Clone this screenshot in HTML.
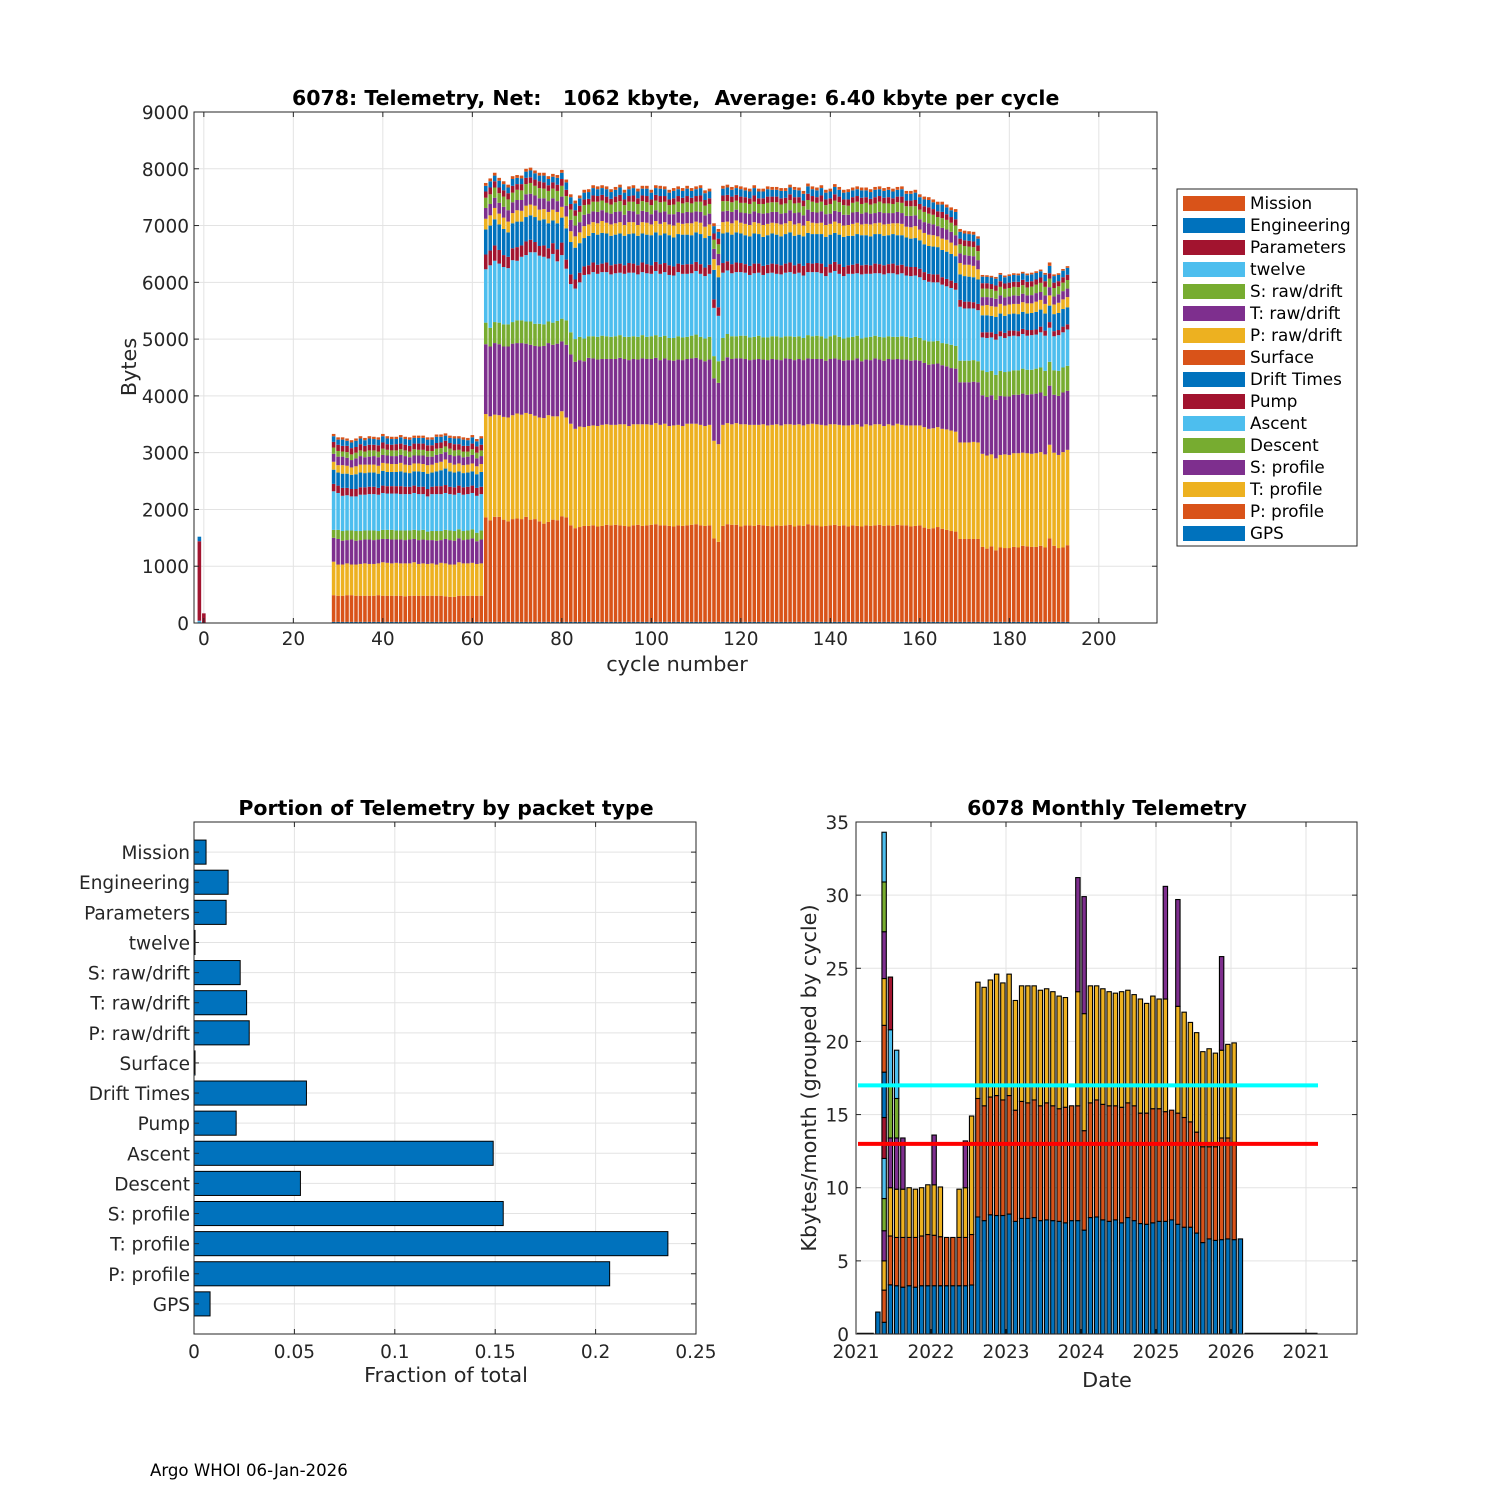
<!DOCTYPE html>
<html><head><meta charset="utf-8"><style>
html,body{margin:0;padding:0;background:#fff;}
svg{display:block;font-family:"DejaVu Sans","Liberation Sans",sans-serif;}
.tk{font-size:18.5px;fill:#262626;}
.ttl{font-size:20.5px;font-weight:bold;fill:#000;}
.lbl{font-size:20.8px;fill:#262626;}
.leg{font-size:16.8px;fill:#000;}
</style></head><body>
<svg id="fig" width="1500" height="1500" viewBox="0 0 1500 1500" xmlns="http://www.w3.org/2000/svg">
<rect x="0" y="0" width="1500" height="1500" fill="#fff"/>
<g id="top"></g>
<g id="bl"></g>
<g id="br"></g>
<text x="292" y="105" class="ttl" xml:space="preserve">6078: Telemetry, Net:   1062 kbyte,  Average: 6.40 kbyte per cycle</text>
<text x="677" y="671" class="lbl" text-anchor="middle">cycle number</text>
<text transform="translate(136,367) rotate(-90)" class="lbl" text-anchor="middle">Bytes</text>
<text x="446" y="815" class="ttl" text-anchor="middle">Portion of Telemetry by packet type</text>
<text x="446" y="1382" class="lbl" text-anchor="middle">Fraction of total</text>
<text x="1107" y="815" class="ttl" text-anchor="middle">6078 Monthly Telemetry</text>
<text x="1107" y="1387" class="lbl" text-anchor="middle">Date</text>
<text transform="translate(816,1078) rotate(-90)" class="lbl" text-anchor="middle">Kbytes/month (grouped by cycle)</text>
<text x="150" y="1476" style="font-size:16.6px" fill="#000">Argo WHOI 06-Jan-2026</text>
</svg>
<script>
// ---------------- TOP CHART DATA ----------------
const cycles = [-1,0,29,30,31,32,33,34,35,36,37,38,39,40,41,42,43,44,45,46,47,48,49,50,51,52,53,54,55,56,57,58,59,60,61,62,
63,64,65,66,67,68,69,70,71,72,73,74,75,76,77,78,79,80,81,82,83,84,85,86,87,88,89,90,91,92,93,94,95,96,97,98,99,100,101,102,
103,104,105,106,107,108,109,110,111,112,113,114,115,116,117,118,119,120,121,122,123,124,125,126,127,128,129,130,131,132,
133,134,135,136,137,138,139,140,141,142,143,144,145,146,147,148,149,150,151,152,153,154,155,156,157,158,159,160,161,162,
163,164,165,166,167,168,169,170,171,172,173,174,175,176,177,178,179,180,181,182,183,184,185,186,187,188,189,190,191,192,193];
const gps = [0,0,
20,20,20,20,20,20,20,20,20,20,20,20,20,20,20,20,20,20,20,20,20,20,20,20,20,20,20,20,20,20,20,20,20,20,
20,20,20,20,20,20,20,20,20,20,20,20,20,20,20,20,20,20,20,20,20,20,20,20,20,20,20,20,20,20,20,20,20,20,20,20,20,20,20,20,
20,20,20,20,20,20,20,20,20,20,20,20,20,20,20,20,20,20,20,20,20,20,20,20,20,20,20,20,20,20,20,20,20,20,20,20,20,20,20,20,
20,20,20,20,20,20,20,20,20,20,20,20,20,20,20,20,20,20,20,20,20,20,20,20,20,20,20,20,20,20,20,20,20,20,20,20,20,20,20,20,
20,20,20,20,20,20,20,20,20,20,20,20,20,20,20,20,20,20,20,20,20,20,20,20,20,40,20,20,20,20,20];
const pProfile = [0,0,
470,460,460,470,470,460,460,460,460,460,470,460,460,460,460,460,450,460,460,460,460,460,460,460,460,450,440,440,460,460,460,460,460,460,
1840,1790,1850,1850,1800,1770,1810,1820,1810,1850,1800,1810,1770,1730,1760,1800,1790,1860,1840,1700,
1650,1670,1690,1690,1700,1680,1690,1710,1700,1710,1700,1690,1680,1700,1710,1690,1700,1710,1720,1700,
1700,1690,1680,1700,1690,1700,1710,1720,1700,1690,1700,1470,1410,1690,1720,1710,1710,1680,1700,1700,
1690,1710,1700,1690,1680,1700,1690,1700,1710,1680,1700,1690,1720,1700,1700,1680,1690,1700,1710,1690,
1700,1680,1700,1690,1680,1700,1690,1700,1710,1690,1700,1690,1710,1700,1700,1680,1690,1700,1660,1640,
1650,1670,1640,1620,1600,1590,1460,1460,1460,1460,1460,1320,1290,1330,1260,1310,1300,1300,1320,1310,
1340,1330,1320,1320,1340,1310,1470,1340,1300,1310,1350];
const tProfile = [0,0,
590,550,550,560,540,550,560,570,560,560,560,590,580,570,580,570,580,570,590,560,570,560,570,550,580,580,570,570,590,570,570,580,560,570,
1820,1830,1800,1790,1810,1830,1830,1850,1840,1830,1860,1820,1830,1860,1880,1820,1830,1850,1760,1790,
1750,1770,1740,1760,1760,1770,1780,1770,1770,1760,1780,1790,1770,1780,1770,1790,1780,1760,1780,1770,
1790,1760,1780,1770,1760,1790,1780,1770,1770,1760,1770,1720,1720,1780,1780,1770,1790,1800,1780,1770,
1780,1760,1780,1770,1790,1780,1770,1780,1770,1790,1780,1770,1760,1790,1780,1790,1770,1780,1770,1780,
1760,1780,1770,1790,1760,1780,1770,1780,1770,1760,1780,1770,1780,1770,1760,1780,1770,1760,1770,1760,
1760,1760,1760,1770,1770,1760,1700,1700,1700,1710,1700,1640,1640,1620,1620,1630,1650,1640,1650,1660,
1640,1640,1640,1650,1650,1640,1650,1640,1640,1680,1680];
const sProfile = [0,0,
420,450,420,410,440,420,420,420,430,420,420,410,420,420,410,420,410,420,410,420,420,420,410,420,400,430,430,420,420,410,420,430,400,420,
1230,1230,1260,1250,1240,1250,1260,1240,1260,1220,1220,1230,1250,1270,1270,1260,1280,1230,1280,1220,
1180,1170,1160,1200,1180,1170,1160,1150,1160,1160,1170,1150,1160,1150,1140,1160,1150,1160,1150,1140,
1150,1160,1140,1150,1160,1140,1150,1160,1150,1140,1150,1100,1080,1130,1160,1150,1140,1160,1150,1140,
1150,1160,1140,1150,1160,1140,1150,1160,1150,1140,1150,1150,1160,1140,1150,1160,1140,1150,1160,1150,
1140,1150,1140,1160,1150,1140,1150,1160,1140,1150,1150,1160,1140,1150,1160,1140,1150,1140,1130,1130,
1130,1120,1120,1110,1100,1110,1060,1060,1060,1060,1060,1030,1030,1040,1030,1040,1020,1030,1030,1030,
1040,1030,1050,1050,1050,1030,1040,1020,1040,1050,1040];
const descent = [0,0,
140,160,170,170,160,170,160,160,160,170,150,160,160,170,160,160,170,160,160,170,170,150,160,170,160,160,170,170,160,160,160,160,150,160,
380,330,370,380,390,390,380,400,400,390,410,390,400,380,380,390,400,400,430,390,
400,410,400,380,390,400,410,400,390,400,400,390,410,400,400,410,390,400,400,410,
400,390,400,410,400,390,400,410,400,400,400,390,380,400,410,400,390,400,410,400,
400,410,390,400,400,410,400,390,400,410,400,390,410,400,410,400,390,400,410,400,
390,400,410,400,400,390,410,400,400,410,400,400,390,410,400,400,410,400,400,410,
400,400,390,400,410,400,380,380,380,380,370,440,440,430,440,440,430,440,430,430,
440,440,430,440,440,440,420,430,440,440,440];
const ascent = [40,0,
680,650,620,620,600,610,640,630,640,640,640,650,640,640,650,640,640,640,650,640,630,620,650,650,650,650,640,640,640,640,640,640,650,640,
940,1100,1080,1040,1010,990,1090,1050,1120,1170,1220,1260,1200,1190,1110,1210,1050,1120,910,850,
890,960,1120,1090,1130,1110,1120,1130,1100,1110,1100,1110,1130,1120,1100,1110,1120,1100,1130,1110,
1120,1110,1100,1130,1120,1110,1100,1120,1110,1100,1110,850,800,1150,1120,1110,1130,1120,1110,1100,
1120,1110,1100,1130,1120,1100,1110,1120,1130,1110,1120,1100,1110,1130,1120,1110,1100,1120,1130,1110,
1100,1120,1110,1100,1130,1120,1110,1100,1120,1110,1110,1120,1100,1110,1080,1090,1080,1070,1060,1050,
1040,1030,1030,1010,1000,990,950,920,920,910,900,580,600,590,620,610,600,620,610,600,
610,600,610,600,620,620,600,600,630,620,640];
const pump = [1400,170,
130,130,140,130,130,130,130,130,130,130,120,130,130,130,130,140,130,130,130,130,130,130,130,140,140,140,130,130,130,130,130,130,140,130,
260,260,270,240,210,200,210,240,200,240,220,180,170,200,180,190,210,220,160,170,
160,170,150,160,170,160,150,170,160,160,160,150,170,160,160,170,160,150,160,170,
160,170,160,150,160,170,160,160,170,150,160,150,150,170,160,160,170,160,150,160,
170,160,160,150,160,170,160,160,170,150,160,170,160,150,160,170,160,150,160,170,
160,150,160,170,160,160,150,170,160,160,160,170,160,150,160,160,150,150,140,140,
140,140,130,130,130,120,120,120,120,110,110,90,100,90,100,90,90,100,90,90,
90,100,90,90,100,90,100,90,90,100,90];
const driftTimes = [40,0,
250,230,250,250,250,260,260,250,250,250,250,260,250,250,250,260,250,240,250,270,260,270,250,260,280,290,270,260,250,250,250,250,240,260,
440,440,460,450,460,430,440,450,420,430,430,440,450,460,440,400,460,440,550,570,
560,520,500,520,520,530,540,510,520,520,530,520,510,530,520,510,520,530,520,510,
520,530,510,520,530,520,510,520,530,520,510,520,530,520,510,520,530,520,510,520,
530,520,510,520,530,520,510,520,530,520,510,520,530,520,510,520,530,520,510,520,
530,520,510,520,530,520,510,520,530,520,510,520,530,520,510,500,510,500,490,490,
490,480,480,480,470,470,450,450,440,440,430,300,300,290,300,310,300,290,300,300,
300,290,300,310,300,300,290,300,300,310,300];
const surface = [];
const pRaw = [0,0,
140,130,150,140,130,140,140,150,140,140,140,140,150,140,140,150,140,140,140,140,140,150,140,150,150,160,150,140,140,140,140,140,140,140,
190,180,200,190,200,190,180,200,190,200,190,200,190,180,200,190,200,190,210,190,
200,190,210,200,190,200,210,190,200,200,200,190,210,200,190,200,210,190,200,200,
200,190,210,200,190,200,210,190,200,200,200,190,210,200,190,200,210,190,200,200,
200,190,210,200,190,200,210,190,200,200,200,190,210,200,190,200,210,190,200,200,
200,190,210,200,190,200,210,190,200,200,200,190,210,200,190,200,210,190,200,200,
200,190,200,210,200,190,200,200,210,200,180,170,180,170,180,170,180,170,170,180,
170,180,170,180,170,170,180,170,180,170,180];
const tRaw = [0,0,
140,150,150,140,130,140,150,130,140,150,150,140,140,140,140,140,150,140,140,140,150,150,140,140,140,130,140,150,140,140,140,150,140,140,
190,200,180,190,190,200,190,180,190,200,190,180,200,190,190,200,190,180,190,200,
190,180,200,190,190,200,190,180,190,200,190,180,200,190,190,200,190,180,190,200,
190,180,200,190,190,200,190,180,190,200,190,180,200,190,190,200,190,180,190,200,
190,180,200,190,190,200,190,180,190,200,190,180,200,190,190,200,190,180,190,200,
190,180,200,190,190,200,190,180,190,200,190,180,200,190,190,200,190,180,190,200,
190,180,190,180,190,180,170,170,160,170,160,150,140,150,140,150,145,140,150,145,
150,140,145,150,140,150,145,140,150,145,150];
const sRaw = [0,0,
110,100,90,100,100,100,100,100,110,100,100,110,100,100,100,100,100,100,110,100,100,100,100,110,100,100,110,100,100,100,90,100,100,100,
180,170,180,170,180,190,170,180,170,180,190,170,180,170,180,170,180,190,170,180,
170,180,170,160,170,180,170,170,160,170,180,170,160,170,180,170,170,160,170,180,
170,160,170,180,170,170,160,170,180,170,170,160,170,180,170,170,160,170,180,170,
170,160,170,180,170,170,160,170,180,170,170,160,170,180,170,170,160,170,180,170,
170,160,170,180,170,170,160,170,180,170,170,160,170,180,170,170,160,170,180,170,
170,160,170,170,160,170,160,160,160,160,160,150,150,150,140,150,150,150,150,150,
150,140,150,150,160,150,150,150,140,150,150];
const twelve = [];
const parameters = [0,0,
100,110,100,110,110,100,110,100,100,100,110,110,100,100,110,100,100,100,100,110,110,100,100,100,100,100,100,110,100,100,100,100,110,100,
110,120,110,100,110,110,120,100,110,110,100,110,120,110,100,110,110,120,110,100,
100,110,100,100,110,100,100,110,100,100,110,100,100,110,100,100,110,100,100,110,
100,100,110,100,100,110,100,100,110,100,100,110,100,100,110,100,100,110,100,100,
110,100,100,110,100,100,110,100,100,110,100,100,110,100,100,110,100,100,110,100,
100,110,100,100,110,100,100,110,100,100,110,100,100,110,100,100,110,100,100,110,
100,100,110,100,100,110,100,100,100,100,100,95,95,90,95,100,95,95,90,95,
95,100,95,90,95,100,95,95,90,95,95];
const engineering = [40,0,
100,90,110,90,100,110,100,100,110,100,100,110,100,100,90,110,100,110,100,100,100,100,100,110,100,90,90,100,100,110,100,110,90,110,
100,110,100,120,110,100,120,110,100,110,120,110,100,120,110,100,120,110,130,120,
120,130,120,120,130,120,120,130,120,120,130,120,120,130,120,120,130,120,120,130,
120,120,130,120,120,130,120,120,130,120,120,130,120,120,130,120,120,130,120,120,
130,120,120,130,120,120,130,120,120,130,120,120,130,120,120,130,120,120,130,120,
120,130,120,120,130,120,120,130,120,120,130,120,120,130,120,120,130,120,120,130,
120,120,130,120,120,130,120,120,120,120,120,115,110,115,120,115,110,115,120,115,
110,115,120,115,110,115,130,115,110,115,120];
const mission = [0,0,
40,40,40,40,40,40,40,40,40,40,40,40,40,40,40,40,40,40,40,40,40,40,40,40,40,40,40,40,40,40,40,40,40,40,
50,50,50,50,50,50,50,50,50,50,50,50,50,50,50,50,50,50,50,50,
50,50,50,50,50,50,50,50,50,50,50,50,50,50,50,50,50,50,50,50,
50,50,50,50,50,50,50,50,50,50,50,50,50,50,50,50,50,50,50,50,
50,50,50,50,50,50,50,50,50,50,50,50,50,50,50,50,50,50,50,50,
50,50,50,50,50,50,50,50,50,50,50,50,50,50,50,50,50,50,50,50,
50,50,50,50,50,50,50,50,50,50,40,30,30,30,30,30,30,30,30,30,
30,30,30,30,30,30,60,30,30,30,30];
const topSeriesNames = ["GPS","P: profile","T: profile","S: profile","Descent","Ascent","Pump","Drift Times","Surface","P: raw/drift","T: raw/drift","S: raw/drift","twelve","Parameters","Engineering","Mission"];
const topSeriesValues = [gps,pProfile,tProfile,sProfile,descent,ascent,pump,driftTimes,surface,pRaw,tRaw,sRaw,twelve,parameters,engineering,mission];
const topXTicks = [0,20,40,60,80,100,120,140,160,180,200];
const topYTicks = [0,1000,2000,3000,4000,5000,6000,7000,8000,9000];

// ---------------- PORTION CHART DATA ----------------
const packetTypes = ["GPS","P: profile","T: profile","S: profile","Descent","Ascent","Pump","Drift Times","Surface","P: raw/drift","T: raw/drift","S: raw/drift","twelve","Parameters","Engineering","Mission"];
const packetFractions = [0.008,0.207,0.236,0.154,0.053,0.149,0.021,0.056,0.0005,0.0275,0.0262,0.023,0.0005,0.016,0.017,0.006];
const portionXTicks = [0,0.05,0.1,0.15,0.2,0.25];
const portionXTickLabels = ["0","0.05","0.1","0.15","0.2","0.25"];

// ---------------- MONTHLY CHART DATA ----------------
const monthStartIndex = 3; // first data month = Apr 2021 (months counted from Jan 2021)
const mBlue = [1.5,0.8,3.36,3.3,3.2,3.3,3.2,3.3,3.3,3.3,3.3,3.3,3.3,3.3,3.3,3.35,
8.0,7.75,8.15,8.1,8.1,8.2,7.7,7.9,7.9,7.96,7.75,7.8,7.75,7.7,7.6,7.75,7.75,7.1,7.96,8.0,7.8,7.7,7.8,7.6,7.96,7.75,7.55,7.5,7.6,7.7,7.7,7.8,7.5,7.3,7.3,6.9,6.25,6.5,6.4,6.45,6.5,6.45,6.5];
const mOrange = [0,2.2,3.34,3.3,3.4,3.3,3.4,3.4,3.5,3.45,3.35,3.3,3.3,3.3,3.3,3.45,
8.1,7.85,8.05,8.2,7.9,8.1,7.6,8.0,7.9,8.04,7.85,8.0,7.85,7.7,7.9,7.85,7.85,6.8,7.84,8.0,7.9,7.9,7.8,7.9,7.84,7.85,7.55,7.6,7.8,7.7,7.5,7.5,7.6,7.5,7.2,6.9,6.55,6.3,6.4,6.95,6.9,6.65,0];
const mYellow = [0,2.0,3.3,3.3,3.3,3.4,3.3,3.3,3.4,3.45,3.4,0,0,3.3,3.4,8.1,
7.95,8.1,8.0,8.3,8.0,8.3,7.5,7.9,8.0,7.8,7.9,7.8,7.8,7.7,7.5,0,7.8,8.0,8.0,7.8,7.9,7.8,7.7,7.9,7.7,7.6,7.8,7.5,7.7,7.5,7.7,0,7.3,7.2,6.8,6.8,6.5,6.7,6.4,6.0,6.4,6.8,0];
const mPurple = [0,2.06,3.4,3.5,3.5,0,0,0,0,3.4,0,0,0,0,3.2,0,
0,0,0,0,0,0,0,0,0,0,0,0,0,0,0,0,7.8,8.0,0,0,0,0,0,0,0,0,0,0,0,0,7.7,0,7.3,0,0,0,0,0,0,6.4,0,0,0];
const mGreen = [0,2.2,3.66,2.7];
const mLightblue = [0,2.74,3.74,3.3];
const mDarkred = [0,2.8,3.6];
const mBlue2 = [0,3.1];
const mOrange2 = [0,3.2];
const mYellow2 = [0,3.2];
const mPurple2 = [0,3.2];
const mGreen2 = [0,3.4];
const mLightblue2 = [0,3.4];
const monthlySeries = [mBlue,mOrange,mYellow,mPurple,mGreen,mLightblue,mDarkred,mBlue2,mOrange2,mYellow2,mPurple2,mGreen2,mLightblue2];
const monthlyYTicks = [0,5,10,15,20,25,30,35];
const monthlyXTicks = [0,12,24,36,48,60,72];
const monthlyXTickLabels = ["2021","2022","2023","2024","2025","2026","2021"];
const meanLevels = [17.0,13.0];
const zeroMonthRanges = [[0,2],[62,73]];

// ---------------- RENDERING ----------------
const NS = "http://www.w3.org/2000/svg";
const C = ["#0072BD","#D95319","#EDB120","#7E2F8E","#77AC30","#4DBEEE","#A2142F"];
function mk(parent, tag, attrs, text) {
  const el = document.createElementNS(NS, tag);
  for (const k in attrs) el.setAttribute(k, attrs[k]);
  if (text !== undefined) el.textContent = text;
  parent.appendChild(el);
  return el;
}
const val = (arr, i) => (arr[i] === undefined ? 0 : arr[i]);

// ===== TOP =====
(function(){
  const g = document.getElementById('top');
  const L=194, R=1157, T=112, B=623, xmin=-2.2, xmax=213, ymax=9000;
  const xs = c => L + (c - xmin) * (R - L) / (xmax - xmin);
  const ys = v => B - v * (B - T) / ymax;
  const grid = mk(g,'g',{stroke:'#e3e3e3','stroke-width':1});
  
  
  topXTicks.forEach(t => { const l = mk(grid,'line',{x1:xs(t),x2:xs(t),y1:T,y2:B});
      });
  topYTicks.forEach(t => { const l = mk(grid,'line',{x1:L,x2:R,y1:ys(t),y2:ys(t)});
      });
  const bars = mk(g,'g',{});
  
  
  const bw = 0.8 * (R - L) / (xmax - xmin);
  cycles.forEach((c, i) => {
    let cum = 0;
    topSeriesValues.forEach((arr, s) => {
      const v = val(arr, i);
      if (v <= 0) return;
      const r = mk(bars,'rect',{x:xs(c)-bw/2,y:ys(cum+v),width:bw,height:ys(cum)-ys(cum+v),fill:C[s%7]});
      
      
      cum += v;
    });
  });
  const ax = mk(g,'g',{stroke:'#262626','stroke-width':1,fill:'none'});
  
  
  mk(ax,'rect',{x:L,y:T,width:R-L,height:B-T});
  topXTicks.forEach(t => { mk(ax,'line',{x1:xs(t),x2:xs(t),y1:B,y2:B-5}); mk(ax,'line',{x1:xs(t),x2:xs(t),y1:T,y2:T+5});
    const tx = mk(g,'text',{x:xs(t),y:B+22,'text-anchor':'middle',class:'tk'},String(t));
      });
  topYTicks.forEach(t => { mk(ax,'line',{x1:L,x2:L+5,y1:ys(t),y2:ys(t)}); mk(ax,'line',{x1:R,x2:R-5,y1:ys(t),y2:ys(t)});
    const tx = mk(g,'text',{x:L-5,y:ys(t)+7,'text-anchor':'end',class:'tk'},String(t));
      });
  // legend
  const lg = mk(g,'g',{});
  
  
  mk(lg,'rect',{x:1177,y:189,width:180,height:357,fill:'#fff',stroke:'#262626','stroke-width':1});
  for (let k = 0; k < topSeriesNames.length; k++) {
    const s = topSeriesNames.length - 1 - k;
    const cy = 203 + k * 22;
    const e = mk(lg,'g',{});
    
    
    mk(e,'rect',{x:1183,y:cy-7,width:62,height:15,fill:C[s%7]});
    mk(e,'text',{x:1250,y:cy+6,class:'leg'},topSeriesNames[s]);
  }
})();

// ===== BOTTOM LEFT =====
(function(){
  const g = document.getElementById('bl');
  const L=194, R=696, T=822, B=1334, xmax=0.25, n=packetTypes.length;
  const xs = v => L + v * (R - L) / xmax;
  const yc = i => B - (i + 1) * ((B - T) / (n + 1));
  const grid = mk(g,'g',{stroke:'#e3e3e3','stroke-width':1});
  
  
  portionXTicks.forEach(t => mk(grid,'line',{x1:xs(t),x2:xs(t),y1:T,y2:B}));
  for (let i = 0; i < n; i++) mk(grid,'line',{x1:L,x2:R,y1:yc(i),y2:yc(i)});
  const bh = 0.8 * (B - T) / (n + 1);
  packetFractions.forEach((f, i) => {
    const r = mk(g,'rect',{x:L,y:yc(i)-bh/2,width:xs(f)-L,height:bh,fill:'#0072BD',stroke:'#000','stroke-width':1});
    
    
    const tx = mk(g,'text',{x:L-4,y:yc(i)+7,'text-anchor':'end',class:'tk'},packetTypes[i]);
    
    
  });
  const ax = mk(g,'g',{stroke:'#262626','stroke-width':1,fill:'none'});
  
  
  mk(ax,'rect',{x:L,y:T,width:R-L,height:B-T});
  portionXTicks.forEach((t,k) => { mk(ax,'line',{x1:xs(t),x2:xs(t),y1:B,y2:B-5}); mk(ax,'line',{x1:xs(t),x2:xs(t),y1:T,y2:T+5});
    const tx = mk(g,'text',{x:xs(t),y:B+24,'text-anchor':'middle',class:'tk'},portionXTickLabels[k]);
      });
  for (let i = 0; i < n; i++) { mk(ax,'line',{x1:L,x2:L+5,y1:yc(i),y2:yc(i)}); mk(ax,'line',{x1:R,x2:R-5,y1:yc(i),y2:yc(i)}); }
})();

// ===== BOTTOM RIGHT =====
(function(){
  const g = document.getElementById('br');
  const L=856, R=1357, T=822, B=1334, ymax=35, pxMonth=6.25;
  const xs = m => L + (m + 0.5) * pxMonth;
  const xt = m => L + m * pxMonth;
  const ys = v => B - v * (B - T) / ymax;
  const grid = mk(g,'g',{stroke:'#e3e3e3','stroke-width':1});
  
  
  monthlyXTicks.forEach(t => mk(grid,'line',{x1:xt(t),x2:xt(t),y1:T,y2:B}));
  monthlyYTicks.forEach(t => mk(grid,'line',{x1:L,x2:R,y1:ys(t),y2:ys(t)}));
  const bars = mk(g,'g',{});
  
  
  const bw = 0.7 * pxMonth;
  for (let i = 0; i < mBlue.length; i++) {
    const m = monthStartIndex + i;
    let cum = 0;
    monthlySeries.forEach((arr, s) => {
      const v = val(arr, i);
      if (v <= 0) return;
      const r = mk(bars,'rect',{x:xs(m)-bw/2,y:ys(cum+v),width:bw,height:ys(cum)-ys(cum+v),fill:C[s%7],stroke:'#000','stroke-width':1.1});
      
      
      cum += v;
    });
  }
  zeroMonthRanges.forEach(rg => {
    const l = mk(g,'line',{x1:xs(rg[0])-bw/2,x2:xs(rg[1])+bw/2,y1:B-0.5,y2:B-0.5,stroke:'#000','stroke-width':1.5});
    
    
  });
  const lineColors = ['#00FFFF','#FF0000'];
  const lineNames = ['upper-reference-line','lower-reference-line'];
  meanLevels.forEach((v, k) => {
    const l = mk(g,'line',{x1:858,x2:1318,y1:ys(v),y2:ys(v),stroke:lineColors[k],'stroke-width':4});
    
    
  });
  const ax = mk(g,'g',{stroke:'#262626','stroke-width':1,fill:'none'});
  
  
  mk(ax,'rect',{x:L,y:T,width:R-L,height:B-T});
  monthlyXTicks.forEach((t,k) => { mk(ax,'line',{x1:xt(t),x2:xt(t),y1:B,y2:B-5}); mk(ax,'line',{x1:xt(t),x2:xt(t),y1:T,y2:T+5});
    const tx = mk(g,'text',{x:xt(t),y:B+24,'text-anchor':'middle',class:'tk'},monthlyXTickLabels[k]);
      });
  monthlyYTicks.forEach(t => { mk(ax,'line',{x1:L,x2:L+5,y1:ys(t),y2:ys(t)}); mk(ax,'line',{x1:R,x2:R-5,y1:ys(t),y2:ys(t)});
    const tx = mk(g,'text',{x:L-7,y:ys(t)+7,'text-anchor':'end',class:'tk'},String(t));
      });
})();
</script>
</body></html>
